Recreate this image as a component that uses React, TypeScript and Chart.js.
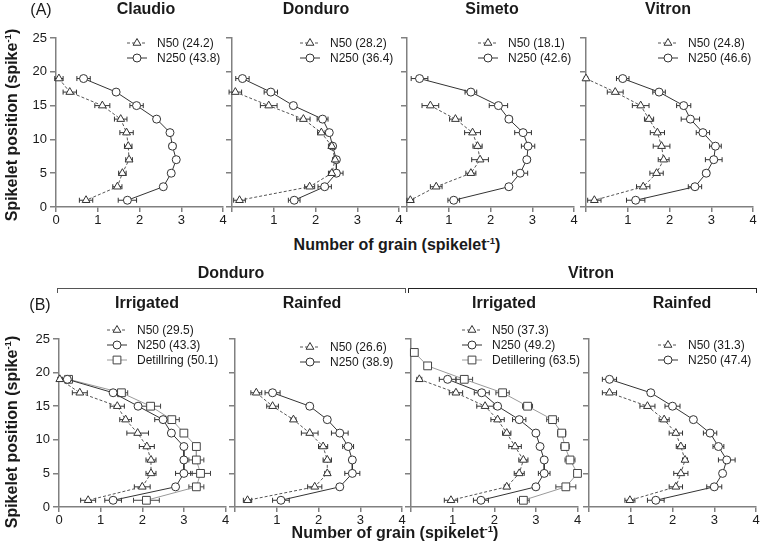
import React, { useEffect, useRef } from "react";
import { Chart, registerables } from "chart.js";
Chart.register(...registerables);

// ---------- data ----------
const positions10 = [19, 17, 15, 13, 11, 9, 7, 5, 3, 1];
const positions12 = [23, 21, 19, 17, 15, 13, 11, 9, 7, 5, 3, 1];
const xTickValues = [0, 1, 2, 3, 4];
const yTickValues = [0, 5, 10, 15, 20, 25];

// (A) Claudio
const claudioN50 = [0.07, 0.33, 1.11, 1.55, 1.69, 1.73, 1.75, 1.59, 1.47, 0.72];
const claudioN50Err = [0.1, 0.16, 0.18, 0.15, 0.16, 0.09, 0.08, 0.09, 0.11, 0.16];
const claudioN250 = [0.66, 1.44, 1.93, 2.41, 2.73, 2.79, 2.88, 2.76, 2.57, 1.71];
const claudioN250Err = [0.16, 0.05, 0.16, 0.05, 0.06, 0.08, 0.06, 0.06, 0.06, 0.22];
const claudioLabels = ["N50 (24.2)", "N250 (43.8)"];

// (A) Donduro
const donduroN50 = [null, 0.08, 0.88, 1.71, 2.14, 2.39, 2.47, 2.39, 1.86, 0.18];
const donduroN50Err = [0, 0.15, 0.2, 0.16, 0.09, 0.08, 0.06, 0.08, 0.12, 0.14];
const donduroN250 = [0.25, 0.93, 1.47, 2.17, 2.33, 2.41, 2.5, 2.5, 2.22, 1.49];
const donduroN250Err = [0.16, 0.16, 0.06, 0.13, 0.06, 0.06, 0.06, 0.16, 0.16, 0.14];
const donduroLabels = ["N50 (28.2)", "N250 (36.4)"];

// (A) Simeto
const simetoN50 = [null, null, 0.56, 1.16, 1.57, 1.69, 1.75, 1.53, 0.7, 0.08];
const simetoN50Err = [0, 0, 0.2, 0.14, 0.19, 0.11, 0.2, 0.12, 0.14, 0.08];
const simetoN250 = [0.3, 1.53, 2.19, 2.44, 2.78, 2.9, 2.87, 2.71, 2.44, 1.12];
const simetoN250Err = [0.2, 0.14, 0.22, 0.08, 0.2, 0.16, 0.08, 0.18, 0.06, 0.14];
const simetoLabels = ["N50 (18.1)", "N250 (42.6)"];

// (A) Vitron
const vitronN50 = [0.0, 0.7, 1.31, 1.51, 1.71, 1.81, 1.86, 1.69, 1.37, 0.2];
const vitronN50Err = [0.04, 0.19, 0.2, 0.11, 0.17, 0.2, 0.13, 0.16, 0.16, 0.16];
const vitronN250 = [0.88, 1.75, 2.34, 2.5, 2.8, 3.1, 3.06, 2.88, 2.61, 1.19];
const vitronN250Err = [0.15, 0.15, 0.17, 0.22, 0.16, 0.14, 0.2, 0.08, 0.16, 0.22];
const vitronLabels = ["N50 (24.8)", "N250 (46.6)"];

// (B) Donduro irrigated
const donIrrN50 = [0.02, 0.5, 1.4, 1.6, 1.89, 2.11, 2.21, 2.21, 2.0, 0.7];
const donIrrN50Err = [0.05, 0.18, 0.17, 0.14, 0.26, 0.18, 0.12, 0.12, 0.19, 0.18];
const donIrrN250 = [0.2, 1.3, 1.9, 2.5, 2.7, 3.0, 3.0, 3.0, 2.8, 1.3];
const donIrrN250Err = [0.12, 0.06, 0.06, 0.2, 0.06, 0.06, 0.06, 0.2, 0.06, 0.2];
const donIrrDet = [0.23, 1.5, 2.2, 2.71, 3.0, 3.3, 3.3, 3.4, 3.3, 2.1];
const donIrrDetErr = [0.08, 0.15, 0.24, 0.18, 0.06, 0.06, 0.18, 0.24, 0.18, 0.31];
const donIrrLabels = ["N50 (29.5)", "N250 (43.3)", "Detillring (50.1)"];

// (B) Donduro rainfed
const donRainN50 = [null, 0.51, 0.9, 1.4, 1.79, 2.11, 2.21, 2.21, 1.91, 0.3];
const donRainN50Err = [0, 0.13, 0.14, 0.06, 0.2, 0.11, 0.1, 0.06, 0.17, 0.1];
const donRainN250 = [null, 0.9, 1.79, 2.21, 2.51, 2.71, 2.81, 2.81, 2.51, 1.1];
const donRainN250Err = [0, 0.18, 0.06, 0.06, 0.2, 0.13, 0.06, 0.18, 0.06, 0.2];
const donRainLabels = ["N50 (26.6)", "N250 (38.9)"];

// (B) Vitron irrigated
const vitIrrN50 = [0.2, 1.08, 1.78, 2.08, 2.3, 2.5, 2.7, 2.6, 2.3, 0.96];
const vitIrrN50Err = [0.06, 0.16, 0.2, 0.16, 0.1, 0.15, 0.11, 0.12, 0.06, 0.16];
const vitIrrN250 = [0.88, 1.7, 2.08, 2.6, 3.0, 3.1, 3.2, 3.2, 3.0, 1.68];
const vitIrrN250Err = [0.2, 0.18, 0.06, 0.16, 0.06, 0.06, 0.06, 0.14, 0.06, 0.18];
const vitIrrDet = [0.08, 0.4, 1.28, 2.2, 2.8, 3.4, 3.62, 3.7, 3.82, 4.0, 3.72, 2.7];
const vitIrrDetErr = [0.06, 0.06, 0.2, 0.16, 0.12, 0.14, 0.1, 0.1, 0.12, 0.06, 0.24, 0.14];
const vitIrrLabels = ["N50 (37.3)", "N250 (49.2)", "Detillering (63.5)"];

// (B) Vitron rainfed
const vitRainN50 = [null, 0.49, 1.4, 1.8, 2.08, 2.2, 2.3, 2.2, 2.08, 0.98];
const vitRainN50Err = [0, 0.17, 0.18, 0.12, 0.16, 0.11, 0.06, 0.17, 0.16, 0.12];
const vitRainN250 = [0.49, 1.48, 2.0, 2.5, 2.9, 3.1, 3.3, 3.2, 3.0, 1.6];
const vitRainN250Err = [0.17, 0.06, 0.18, 0.06, 0.16, 0.13, 0.2, 0.06, 0.18, 0.2];
const vitRainLabels = ["N50 (31.3)", "N250 (47.4)"];

// ---------- styles ----------
const FONT = 'Arial, "Liberation Sans", Helvetica, sans-serif';
const AXIS_COLOR = "#808080";
const TEXT_COLOR = "#1a1a1a";

const seriesStyles: any = {
  n50: { pointStyle: "triangle", radius: 4.5, line: "#555555", marker: "#333333", dash: [3, 2] },
  n250: { pointStyle: "circle", radius: 4, line: "#333333", marker: "#333333", dash: [] },
  det: { pointStyle: "rect", radius: 5.5, line: "#9a9a9a", marker: "#444444", dash: [] },
};

function drawMarker(ctx: CanvasRenderingContext2D, style: string, r: number, x: number, y: number) {
  ctx.beginPath();
  if (style === "circle") {
    ctx.arc(x, y, r, 0, Math.PI * 2);
  } else if (style === "triangle") {
    let rad = 0;
    ctx.moveTo(x + Math.sin(rad) * r, y - Math.cos(rad) * r);
    rad += (2 * Math.PI) / 3;
    ctx.lineTo(x + Math.sin(rad) * r, y - Math.cos(rad) * r);
    rad += (2 * Math.PI) / 3;
    ctx.lineTo(x + Math.sin(rad) * r, y - Math.cos(rad) * r);
    ctx.closePath();
  } else {
    const s = Math.SQRT1_2 * r;
    ctx.rect(x - s, y - s, 2 * s, 2 * s);
  }
  ctx.fill();
  ctx.stroke();
}

const errorBarPlugin = {
  id: "errorBars",
  beforeDatasetsDraw(chart: any) {
    const { ctx } = chart;
    const xs = chart.scales.x;
    const ys = chart.scales.y;
    chart.data.datasets.forEach((ds: any) => {
      ctx.save();
      ctx.strokeStyle = ds.pointBorderColor;
      ctx.lineWidth = 1;
      ds.data.forEach((p: any) => {
        const e = p.e || 0;
        if (e <= 0) return;
        const x1 = xs.getPixelForValue(p.x - e);
        const x2 = xs.getPixelForValue(p.x + e);
        const py = ys.getPixelForValue(p.y);
        ctx.beginPath();
        ctx.moveTo(x1, py);
        ctx.lineTo(x2, py);
        ctx.moveTo(x1, py - 2.5);
        ctx.lineTo(x1, py + 2.5);
        ctx.moveTo(x2, py - 2.5);
        ctx.lineTo(x2, py + 2.5);
        ctx.stroke();
      });
      ctx.restore();
    });
  },
};

const legendPlugin = {
  id: "panelLegend",
  afterDraw(chart: any, _args: any, opts: any) {
    const { ctx, chartArea } = chart;
    const tx = chartArea.left + opts.dx;
    let y = chartArea.top + opts.dy;
    chart.data.datasets.forEach((ds: any) => {
      ctx.save();
      ctx.strokeStyle = ds.borderColor;
      ctx.lineWidth = 1;
      ctx.setLineDash(ds.borderDash || []);
      ctx.beginPath();
      ctx.moveTo(tx - 30, y);
      ctx.lineTo(tx - 10, y);
      ctx.stroke();
      ctx.setLineDash([]);
      ctx.fillStyle = "#ffffff";
      ctx.strokeStyle = ds.pointBorderColor;
      drawMarker(ctx, ds.pointStyle, ds.pointRadius, tx - 20, y);
      ctx.fillStyle = TEXT_COLOR;
      ctx.font = `12px ${FONT}`;
      ctx.textBaseline = "middle";
      ctx.textAlign = "left";
      ctx.fillText(ds.label, tx, y + 0.5);
      ctx.restore();
      y += 15;
    });
  },
};

type Series = { label: string; kind: string; pos: number[]; vals: (number | null)[]; errs: number[] };

const PAD_TOP = 30;
const PAD_RIGHT = 6;
const Y_AXIS_W = 50;
const X_AXIS_H = 25;
const PLOT_W = 167;

function Panel(props: {
  left: number; top: number; height: number; showY: boolean; showZero: boolean;
  series: Series[]; legendDx: number; legendDy: number;
}) {
  const ref = useRef<HTMLCanvasElement>(null);
  const { left, top, height, showY, showZero, series, legendDx, legendDy } = props;
  const cw = Y_AXIS_W + PLOT_W + PAD_RIGHT;
  const ch = PAD_TOP + height + X_AXIS_H;

  useEffect(() => {
    if (!ref.current) return;
    const datasets = series.map((s) => {
      const st = seriesStyles[s.kind];
      const data: any[] = [];
      s.pos.forEach((p, i) => {
        const v = s.vals[i];
        if (v === null || v === undefined) return;
        data.push({ x: v, y: p, e: s.errs[i] });
      });
      return {
        label: s.label,
        data,
        showLine: true,
        borderColor: st.line,
        borderWidth: 1,
        borderDash: st.dash,
        pointStyle: st.pointStyle,
        pointRadius: st.radius,
        pointBackgroundColor: "#ffffff",
        pointBorderColor: st.marker,
        pointBorderWidth: 1,
        pointHoverRadius: st.radius,
        clip: false,
      };
    });
    const tickFont = { family: FONT, size: 13 };
    const chart = new Chart(ref.current, {
      type: "scatter",
      data: { datasets } as any,
      options: {
        animation: false,
        responsive: false,
        maintainAspectRatio: false,
        events: [],
        layout: { padding: { left: 0, top: PAD_TOP, right: PAD_RIGHT, bottom: 0 } },
        plugins: {
          legend: { display: false },
          tooltip: { enabled: false },
          panelLegend: { dx: legendDx, dy: legendDy },
        } as any,
        scales: {
          x: {
            type: "linear",
            min: 0,
            max: 4,
            afterBuildTicks: (s: any) => { s.ticks = xTickValues.map((v) => ({ value: v })); },
            ticks: {
              callback: (v: any) => (v === 0 && !showZero ? "" : String(v)),
              color: TEXT_COLOR,
              font: tickFont,
              padding: 1,
              maxRotation: 0,
              autoSkip: false,
            },
            grid: { drawOnChartArea: false, drawTicks: true, tickLength: 5, color: AXIS_COLOR, lineWidth: 1.5 },
            border: { display: true, color: AXIS_COLOR, width: 1.5 },
            afterFit: (s: any) => { s.height = X_AXIS_H; },
          },
          y: {
            type: "linear",
            min: 0,
            max: 25,
            afterBuildTicks: (s: any) => { s.ticks = yTickValues.map((v) => ({ value: v })); },
            ticks: {
              callback: (v: any) => (showY ? String(v) : ""),
              color: TEXT_COLOR,
              font: tickFont,
              padding: 3,
              autoSkip: false,
            },
            grid: { drawOnChartArea: false, drawTicks: true, tickLength: 6, color: AXIS_COLOR, lineWidth: 1.5 },
            border: { display: true, color: AXIS_COLOR, width: 1.5 },
            afterFit: (s: any) => { s.width = Y_AXIS_W; },
          },
        } as any,
      },
      plugins: [errorBarPlugin, legendPlugin],
    } as any);
    return () => chart.destroy();
  }, []);

  return (
    <canvas
      ref={ref}
      width={cw}
      height={ch}
      style={{ position: "absolute", left: left - Y_AXIS_W, top: top - PAD_TOP, width: cw, height: ch }}
    />
  );
}

function Txt(props: { x: number; y: number; size: number; bold?: boolean; children: any; rotate?: boolean }) {
  const { x, y, size, bold, children, rotate } = props;
  return (
    <div
      style={{
        position: "absolute",
        left: x,
        top: y,
        transform: `translate(-50%, -50%)${rotate ? " rotate(-90deg)" : ""}`,
        fontFamily: FONT,
        fontSize: size,
        fontWeight: bold ? 700 : 400,
        color: TEXT_COLOR,
        whiteSpace: "nowrap",
        lineHeight: 1,
      }}
    >
      {children}
    </div>
  );
}

const sup = (t: string) => (
  <sup style={{ fontSize: "0.6em", verticalAlign: "0.6em", lineHeight: 0 }}>{t}</sup>
);

const s = (label: string, kind: string, pos: number[], vals: (number | null)[], errs: number[]): Series => ({
  label, kind, pos, vals, errs,
});

export default function App() {
  const topY = 38;
  const topH = 169;
  const botY = 339;
  const botH = 168;
  return (
    <div style={{ position: "fixed", left: 0, top: 0, width: 760, height: 554, overflow: "hidden", background: "#fff" }}>
      <Panel left={56} top={topY} height={topH} showY showZero legendDx={101} legendDy={5}
        series={[s(claudioLabels[0], "n50", positions10, claudioN50, claudioN50Err), s(claudioLabels[1], "n250", positions10, claudioN250, claudioN250Err)]} />
      <Panel left={232} top={topY} height={topH} showY={false} showZero={false} legendDx={98} legendDy={5}
        series={[s(donduroLabels[0], "n50", positions10, donduroN50, donduroN50Err), s(donduroLabels[1], "n250", positions10, donduroN250, donduroN250Err)]} />
      <Panel left={407} top={topY} height={topH} showY={false} showZero={false} legendDx={101} legendDy={5}
        series={[s(simetoLabels[0], "n50", positions10, simetoN50, simetoN50Err), s(simetoLabels[1], "n250", positions10, simetoN250, simetoN250Err)]} />
      <Panel left={586} top={topY} height={topH} showY={false} showZero={false} legendDx={102} legendDy={5}
        series={[s(vitronLabels[0], "n50", positions10, vitronN50, vitronN50Err), s(vitronLabels[1], "n250", positions10, vitronN250, vitronN250Err)]} />

      <Panel left={59} top={botY} height={botH} showY showZero legendDx={78} legendDy={-9}
        series={[s(donIrrLabels[0], "n50", positions10, donIrrN50, donIrrN50Err), s(donIrrLabels[1], "n250", positions10, donIrrN250, donIrrN250Err), s(donIrrLabels[2], "det", positions10, donIrrDet, donIrrDetErr)]} />
      <Panel left={235} top={botY} height={botH} showY={false} showZero={false} legendDx={95} legendDy={8}
        series={[s(donRainLabels[0], "n50", positions10, donRainN50, donRainN50Err), s(donRainLabels[1], "n250", positions10, donRainN250, donRainN250Err)]} />
      <Panel left={411} top={botY} height={botH} showY={false} showZero={false} legendDx={81} legendDy={-9}
        series={[s(vitIrrLabels[0], "n50", positions10, vitIrrN50, vitIrrN50Err), s(vitIrrLabels[1], "n250", positions10, vitIrrN250, vitIrrN250Err), s(vitIrrLabels[2], "det", positions12, vitIrrDet, vitIrrDetErr)]} />
      <Panel left={589} top={botY} height={botH} showY={false} showZero={false} legendDx={99} legendDy={6}
        series={[s(vitRainLabels[0], "n50", positions10, vitRainN50, vitRainN50Err), s(vitRainLabels[1], "n250", positions10, vitRainN250, vitRainN250Err)]} />

      <Txt x={41} y={10} size={16}>(A)</Txt>
      <Txt x={146} y={9} size={16} bold>Claudio</Txt>
      <Txt x={316} y={9} size={16} bold>Donduro</Txt>
      <Txt x={492} y={9} size={16} bold>Simeto</Txt>
      <Txt x={668} y={9} size={16} bold>Vitron</Txt>
      <Txt x={12} y={125} size={16} bold rotate>Spikelet position (spike{sup("-1")})</Txt>
      <Txt x={397} y={245} size={16} bold>Number of grain (spikelet{sup("-1")})</Txt>

      <Txt x={231} y={273} size={16} bold>Donduro</Txt>
      <Txt x={591} y={273} size={16} bold>Vitron</Txt>
      <div style={{ position: "absolute", left: 57, top: 288, width: 347, height: 4, borderTop: "1px solid #555", borderLeft: "1px solid #555", borderRight: "1px solid #555" }} />
      <div style={{ position: "absolute", left: 408, top: 288, width: 347, height: 4, borderTop: "1px solid #222", borderLeft: "1px solid #222", borderRight: "1px solid #222" }} />
      <Txt x={40} y={305} size={16}>(B)</Txt>
      <Txt x={147} y={303} size={16} bold>Irrigated</Txt>
      <Txt x={312} y={303} size={16} bold>Rainfed</Txt>
      <Txt x={504} y={303} size={16} bold>Irrigated</Txt>
      <Txt x={682} y={303} size={16} bold>Rainfed</Txt>
      <Txt x={12} y={432} size={16} bold rotate>Spikelet position (spike{sup("-1")})</Txt>
      <Txt x={395} y={533} size={16} bold>Number of grain (spikelet{sup("-1")})</Txt>
    </div>
  );
}
